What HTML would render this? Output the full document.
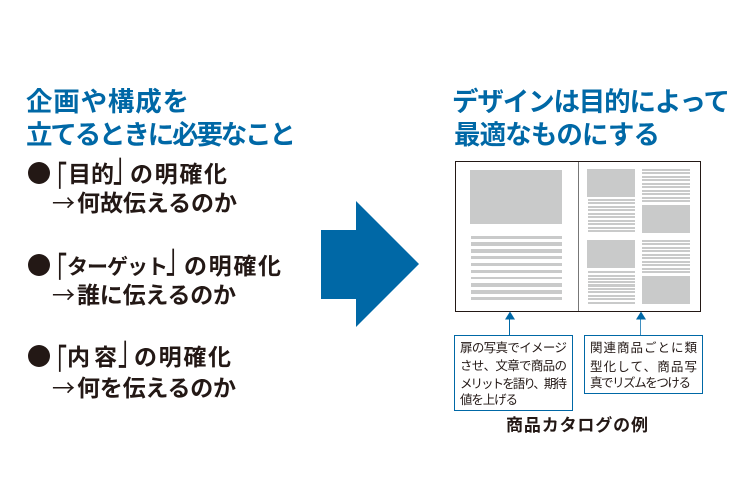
<!DOCTYPE html>
<html lang="ja"><head><meta charset="utf-8"><style>
html,body{margin:0;padding:0;background:#fff;width:750px;height:500px;overflow:hidden}
svg{display:block}
text{font-family:"Noto Sans CJK JP","Liberation Sans",sans-serif}
.t{font-size:26.5px;font-weight:700;fill:#0068a6}
.b{font-size:23px;font-weight:700;fill:#231815}
.r{font-size:23px;font-weight:400;fill:#231815}
.s{font-size:12.5px;fill:#231815}
</style></head><body>
<svg width="750" height="500" viewBox="0 0 750 500" xmlns="http://www.w3.org/2000/svg">
<text class="t" x="26" y="111" textLength="163" lengthAdjust="spacing">企画や構成を</text>
<text class="t" x="26" y="144" textLength="270" lengthAdjust="spacing">立てるときに必要なこと</text>

<circle cx="39" cy="173" r="11" fill="#231815"/>
<text class="r" transform="translate(44,197) scale(1,1.8)">「</text>
<text class="b" x="68" y="182" textLength="46" lengthAdjust="spacing">目的</text>
<text class="r" transform="translate(113,181) scale(1,1.8)">」</text>
<text class="b" x="130" y="182" textLength="97" lengthAdjust="spacing">の明確化</text>
<text class="r" x="52" y="211">→</text>
<text class="b" x="77" y="211" textLength="160" lengthAdjust="spacing">何故伝えるのか</text>

<circle cx="39" cy="265" r="11" fill="#231815"/>
<text class="r" transform="translate(44,288) scale(1,1.8)">「</text>
<text class="b" x="67" y="274" style="font-size:21px" textLength="101" lengthAdjust="spacing">ターゲット</text>
<text class="r" transform="translate(166,272) scale(1,1.8)">」</text>
<text class="b" x="184" y="274" textLength="97" lengthAdjust="spacing">の明確化</text>
<text class="r" x="52" y="303">→</text>
<text class="b" x="77" y="303" textLength="159" lengthAdjust="spacing">誰に伝えるのか</text>

<circle cx="39" cy="356" r="11" fill="#231815"/>
<text class="r" transform="translate(44,380) scale(1,1.8)">「</text>
<text class="b" x="67" y="365" textLength="50" lengthAdjust="spacing">内容</text>
<text class="r" transform="translate(118,364) scale(1,1.8)">」</text>
<text class="b" x="134" y="365" textLength="97" lengthAdjust="spacing">の明確化</text>
<text class="r" x="52" y="396">→</text>
<text class="b" x="77" y="396" textLength="159" lengthAdjust="spacing">何を伝えるのか</text>

<polygon points="321,230 356,230 356,201 419,264 356,327 356,299 321,299" fill="#0068a6"/>

<text class="t" x="452" y="111" textLength="278" lengthAdjust="spacing">デザインは目的によって</text>
<text class="t" x="454" y="144" textLength="206" lengthAdjust="spacing">最適なものにする</text>

<g fill="#c9caca">
<rect x="470" y="170" width="92" height="54"/>
<rect x="471" y="236" width="91" height="3"/>
<rect x="471" y="242" width="91" height="4"/>
<rect x="471" y="249" width="91" height="4"/>
<rect x="471" y="256" width="91" height="3"/>
<rect x="471" y="263" width="91" height="3"/>
<rect x="471" y="270" width="91" height="3"/>
<rect x="471" y="277" width="91" height="2"/>
<rect x="471" y="283" width="91" height="4"/>
<rect x="471" y="290" width="91" height="4"/>
<rect x="471" y="297" width="91" height="3"/>

<rect x="587" y="169" width="48" height="28"/>
<rect x="642" y="205" width="48" height="28"/>
<rect x="587" y="240" width="48" height="28"/>
<rect x="642" y="276" width="48" height="28"/>

<rect x="588" y="199" width="47" height="2"/><rect x="588" y="202" width="47" height="2"/>
<rect x="588" y="206" width="47" height="2"/><rect x="588" y="209" width="47" height="2"/>
<rect x="588" y="213" width="47" height="2"/><rect x="588" y="216" width="47" height="2"/>
<rect x="588" y="220" width="47" height="2"/><rect x="588" y="223" width="47" height="2"/>
<rect x="588" y="227" width="47" height="2"/><rect x="588" y="230" width="47" height="2"/>

<rect x="642" y="169" width="48" height="2"/><rect x="642" y="172" width="48" height="2"/>
<rect x="642" y="176" width="48" height="2"/><rect x="642" y="179" width="48" height="2"/>
<rect x="642" y="183" width="48" height="2"/><rect x="642" y="186" width="48" height="2"/>
<rect x="642" y="190" width="48" height="2"/><rect x="642" y="193" width="48" height="2"/>
<rect x="642" y="197" width="48" height="2"/><rect x="642" y="200" width="48" height="2"/>

<rect x="588" y="271" width="47" height="2"/><rect x="588" y="275" width="47" height="2"/>
<rect x="588" y="278" width="47" height="2"/><rect x="588" y="281" width="47" height="2"/>
<rect x="588" y="284" width="47" height="3"/><rect x="588" y="288" width="47" height="2"/>
<rect x="588" y="291" width="47" height="2"/><rect x="588" y="295" width="47" height="2"/>
<rect x="588" y="298" width="47" height="2"/><rect x="588" y="302" width="47" height="2"/>

<rect x="642" y="240" width="48" height="2"/><rect x="642" y="243" width="48" height="2"/>
<rect x="642" y="247" width="48" height="2"/><rect x="642" y="250" width="48" height="2"/>
<rect x="642" y="254" width="48" height="2"/><rect x="642" y="257" width="48" height="2"/>
<rect x="642" y="261" width="48" height="2"/><rect x="642" y="264" width="48" height="2"/>
<rect x="642" y="268" width="48" height="2"/><rect x="642" y="271" width="48" height="2"/>
</g>
<rect x="455.5" y="161.5" width="245" height="150" fill="none" stroke="#231815" stroke-width="1"/>
<line x1="578.5" y1="162" x2="578.5" y2="311" stroke="#777" stroke-width="1"/>

<g stroke="#0068a6" stroke-width="1" fill="none">
<line x1="509.5" y1="318" x2="509.5" y2="335"/>
<line x1="640.5" y1="318" x2="640.5" y2="335" stroke="#3f8fc0"/>
<rect x="454.5" y="335.5" width="118" height="75"/>
<rect x="584.5" y="335.5" width="118" height="58"/>
</g>
<polygon points="510,311.5 515,319.5 505,319.5" fill="#0068a6"/>
<polygon points="641,311.5 646,319.5 636,319.5" fill="#0068a6"/>

<text class="s" x="460" y="352" textLength="107" lengthAdjust="spacing">扉の写真でイメージ</text>
<text class="s" x="460" y="370" textLength="107" lengthAdjust="spacing">させ、文章で商品の</text>
<text class="s" x="460" y="388" textLength="107" lengthAdjust="spacing">メリットを語り、期待</text>
<text class="s" x="460" y="404" textLength="58" lengthAdjust="spacing">値を上げる</text>
<text class="s" x="590" y="352" textLength="107" lengthAdjust="spacing">関連商品ごとに類</text>
<text class="s" x="590" y="371" textLength="107" lengthAdjust="spacing">型化して、商品写</text>
<text class="s" x="590" y="387" textLength="101" lengthAdjust="spacing">真でリズムをつける</text>
<text x="506" y="431" font-size="17" font-weight="700" fill="#231815" textLength="142" lengthAdjust="spacing">商品カタログの例</text>
</svg>
</body></html>
